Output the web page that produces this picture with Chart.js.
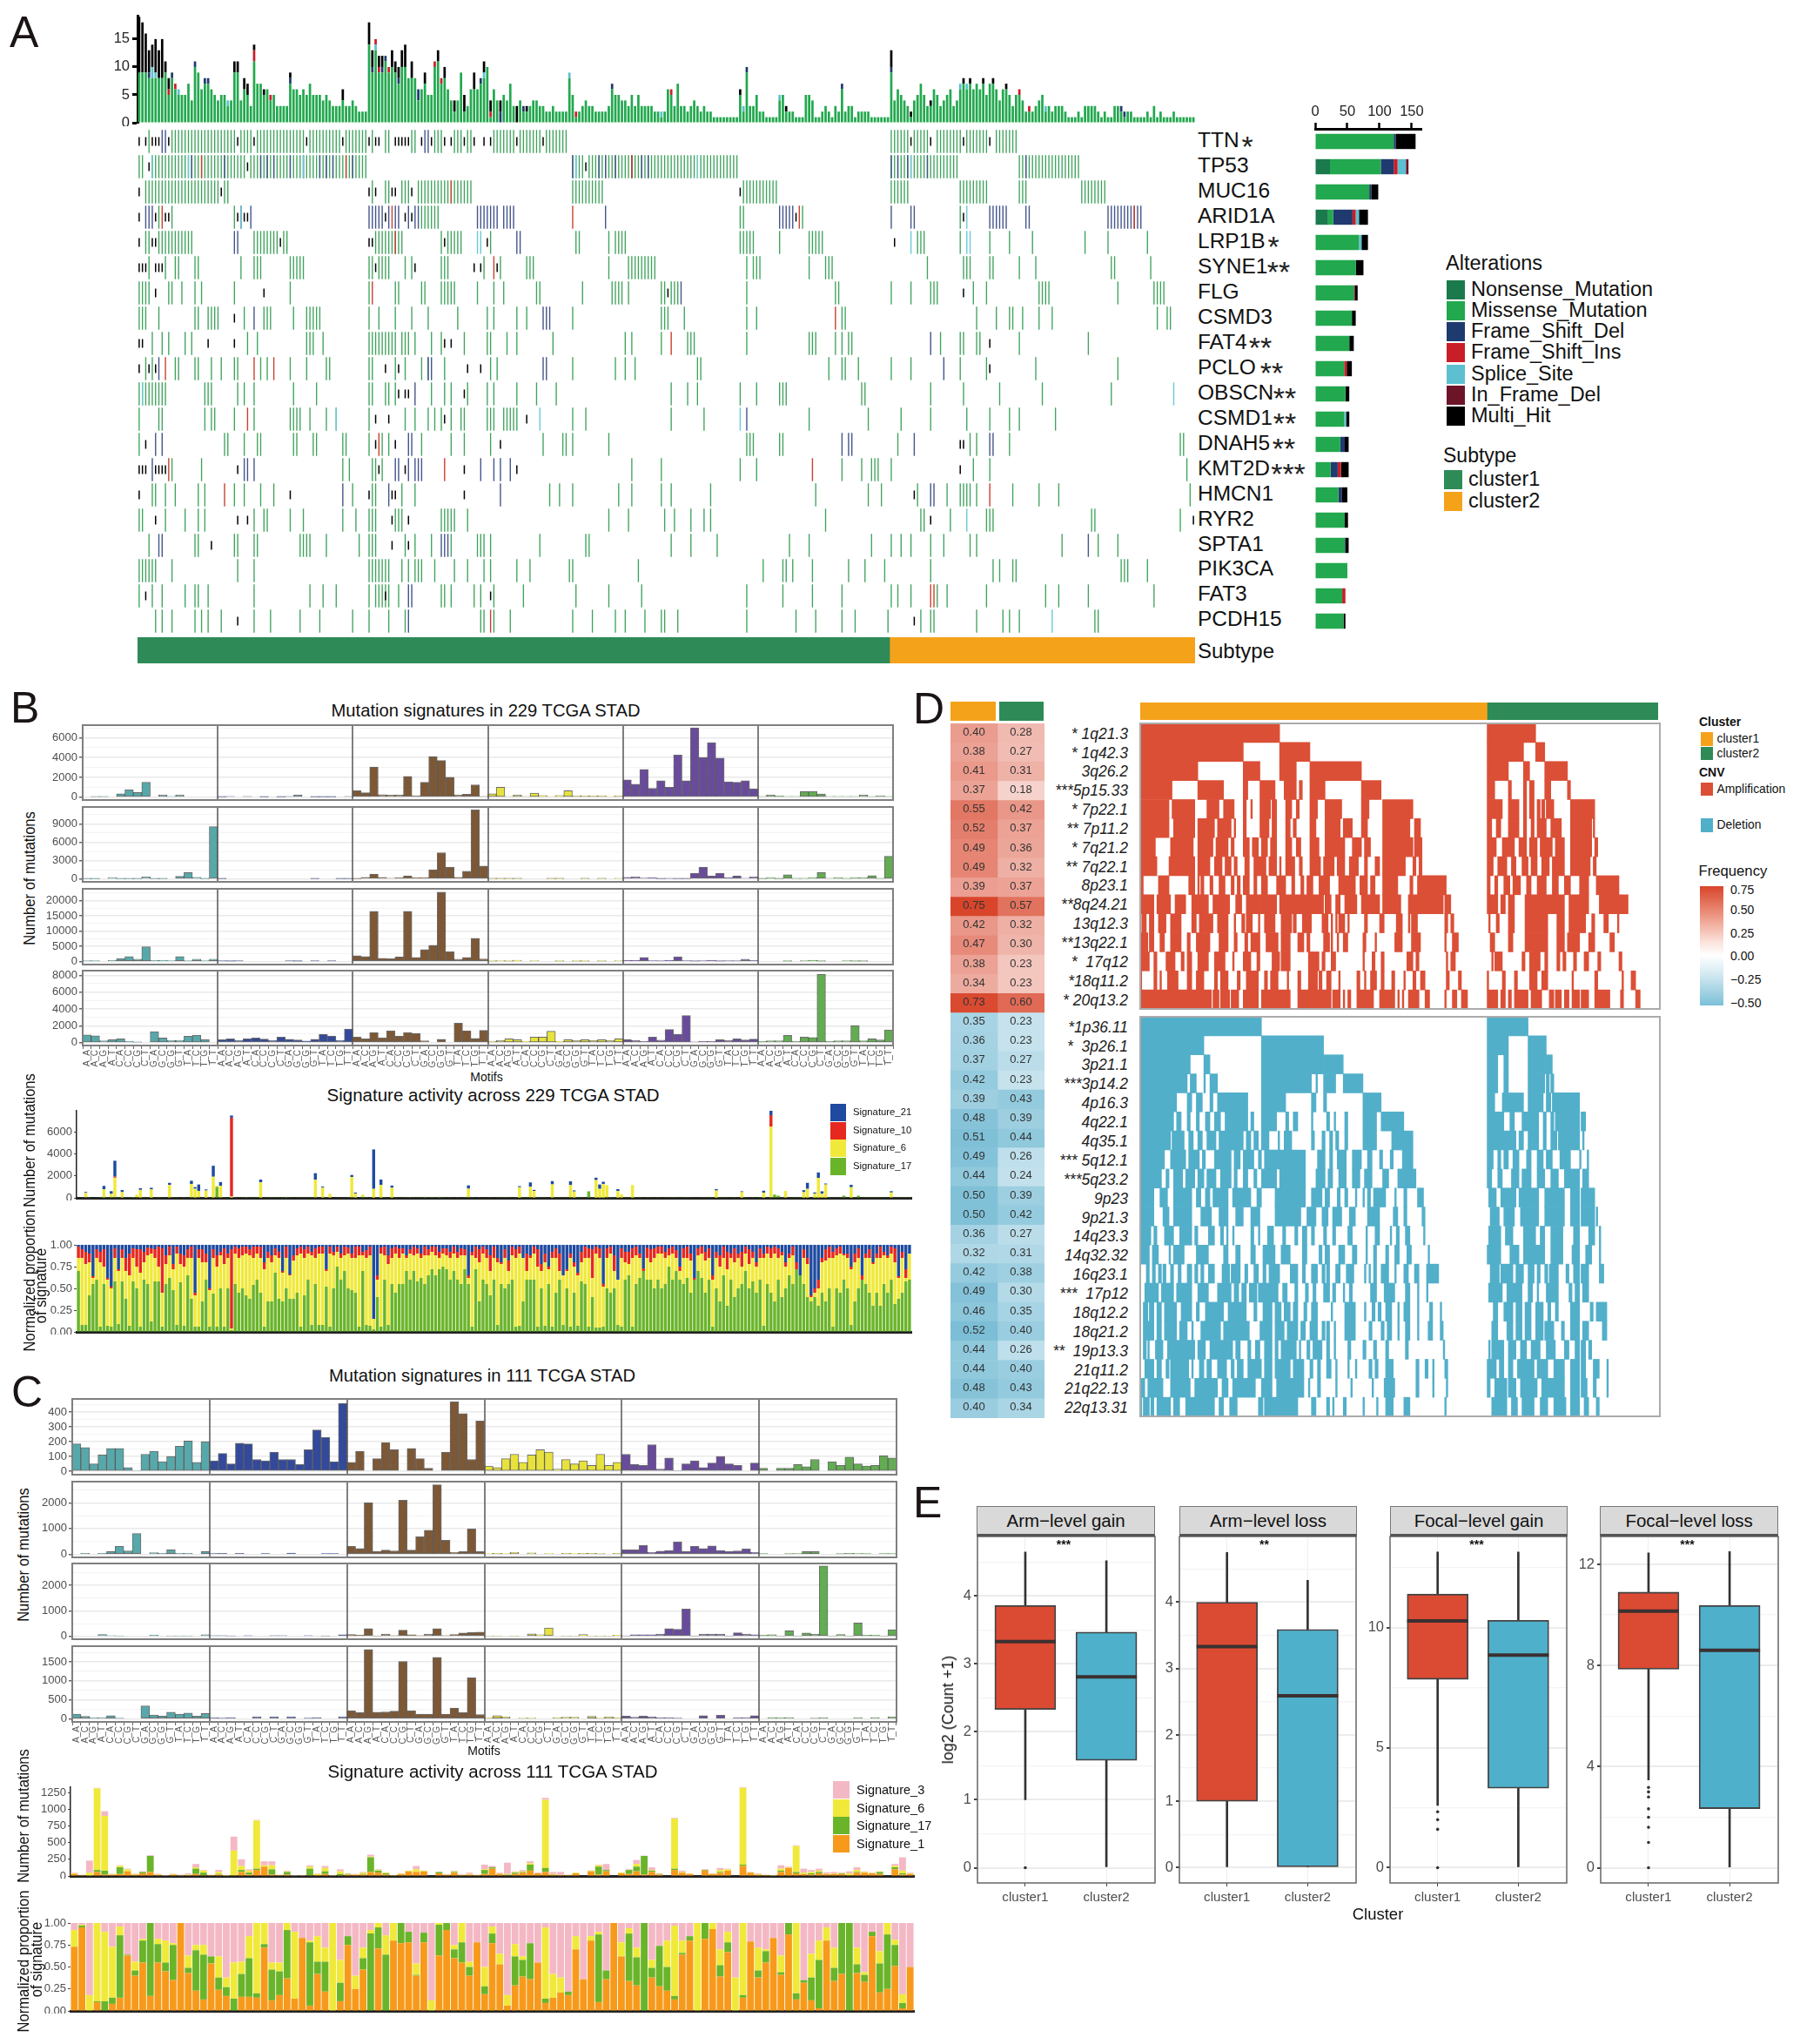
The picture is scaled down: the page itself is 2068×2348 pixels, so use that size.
<!DOCTYPE html>
<html><head><meta charset="utf-8">
<script src="https://cdn.jsdelivr.net/npm/chart.js@4"></script>
<style>
html,body{margin:0;padding:0;background:#fff}
#page{position:relative;width:2068px;height:2348px;overflow:hidden;font-family:"Liberation Sans",Arial,sans-serif;background:#fff}
canvas{position:absolute;display:block}
.t{position:absolute;white-space:pre;line-height:1}
.s{position:absolute}
</style></head><body><div id="page"></div>
<script>
/* ---------- Panel A data ---------- */
const geneNames=["TTN","TP53","MUC16","ARID1A","LRP1B","SYNE1","FLG","CSMD3","FAT4","PCLO","OBSCN","CSMD1","DNAH5","KMT2D","HMCN1","RYR2","SPTA1","PIK3CA","FAT3","PCDH15"];
const geneStars=["*","","","","*","**","","","**","**","**","**","**","***","","","","","",""];
const tmbTotals=[19,18,16,13,14,15,13,15,11,8,9,7,6,5,5,7,4,11,9,6,8,8,6,5,4,5,5,4,4,11,11,4,8,7,3,14,7,7,6,6,5,5,3,3,3,3,9,6,6,5,6,5,7,5,5,5,4,5,4,3,3,3,6,3,3,4,3,2,2,2,18,13,15,12,12,12,10,13,11,10,13,14,8,11,8,6,6,9,5,5,11,13,8,10,6,4,4,4,9,5,3,6,9,6,8,11,10,4,6,4,4,5,4,7,3,3,4,3,3,3,4,4,3,3,2,2,3,2,2,2,2,9,5,2,2,3,4,3,3,2,2,2,2,3,7,5,5,4,4,3,5,3,5,3,3,3,3,2,2,2,2,6,6,3,7,3,3,2,3,4,3,2,3,2,2,1,1,1,1,1,1,1,1,6,3,10,3,3,5,2,2,1,1,1,1,5,5,3,2,2,1,1,1,5,5,4,1,1,2,3,2,1,3,2,7,2,3,3,1,2,2,2,2,1,1,1,1,1,1,13,4,6,5,4,3,2,4,5,7,5,3,4,6,5,3,4,5,6,3,4,7,8,7,8,6,7,6,8,5,7,8,6,4,6,7,5,3,5,6,4,2,3,2,3,4,5,3,3,2,3,3,3,2,1,1,1,2,1,3,3,3,3,2,1,2,1,1,3,3,3,2,2,2,1,1,1,1,2,1,3,1,2,1,1,1,2,1,1,1,1,1,1];
const tmbMultiPairs=[[0,10],[1,9],[2,7],[3,4],[4,4],[5,6],[6,5],[7,7],[8,2],[9,2],[29,2],[30,2],[32,2],[33,2],[35,1],[38,1],[46,1],[62,2],[70,4],[71,3],[73,2],[74,2],[77,3],[78,2],[79,2],[80,3],[81,4],[83,3],[87,2],[91,2],[93,2],[96,2],[99,3],[102,3],[105,2],[107,2],[110,2],[115,3],[118,1],[183,1],[197,1],[229,3],[235,1],[241,1],[251,1],[253,1],[257,1],[260,1],[264,1]];
const tmbDelPairs=[[3,1],[10,1],[17,1],[20,1],[21,1],[46,1],[71,1],[74,1],[75,1],[79,1],[85,2],[104,1],[110,2],[117,1],[144,1],[185,1],[214,1],[229,1],[299,1],[300,1]];
const tmbSplicePairs=[[4,2],[5,1],[12,1],[27,1],[72,1],[105,1],[131,1],[159,1],[184,1],[195,1],[250,1],[252,1],[276,1]];
const tmbInsPairs=[[9,1],[11,1],[35,2],[40,1],[72,1],[73,1],[76,1],[90,1],[92,1],[107,1],[133,1],[162,1],[268,1],[271,1]];
const missenseRuns=[
"3 10-29 31-34 36-50 52-61 63-69 71 75-76 83-84 90-92 96-98 100-101 108-114 116-122 124-130 229-234 236-240 243-250 252-258 261-267",
"0-1 4-32 34-69 132-135 137-182 229-249 268-286",
"2-24 26-27 71 75-76 80-82 85-101 132-141 184-194 229-234 250-258 268-270 287-294",
"6 10 29 86-91 183-184 202 250",
"2-3 6-16 35-42 44-45 72-80 92 94-98 107 133-134 143 145-148 183-187 195 204-208 237-239 250 259 265 272 288 295 307",
"3 8 11-12 17-18 31 35-37 46-50 70-71 73-76 81 83 92-94 105 110 118-120 143 149-157 185 187-189 204 209-211 240 251-253 259-260 268 273 296-297 308",
"0-3 9-10 13 17 19 29 46 70 78-79 86-87 92-96 103 108 111 121-122 135 144-147 149 159-160 162-164 185 212-213 229 235 241-243 254 258 274-277 298 309-312",
"0-2 6 17-18 21-24 32 38-40 47 51-55 70 73 78 83 88 97 106 108 115 118 132 159-161 166 185 188 214-215 255 261 265-266 269 274 278 310 313-314",
"4 7 9 14 16 33 36 51-53 56 70-78 80-82 84 89 92 99 106-107 112 115 126 148 150 159 167-169 185 204-206 212 214 216-217 244 250-251 255-256 268 289",
"2 4 11-12 17-18 22 25 29-30 37 39 46 51 57-58 70-71 78 81 86 88 93 107 109 132 145 148 151 170-171 210 214-215 219 229 235 250 258 273 298",
"0-8 20-22 30 32 35 47 54 70-71 75-76 78 89 93 95 100 106 108 115 121 127 162 167 170 183 188 195-197 220-221 241 251 262 275 296",
"0 6-7 20 22-23 29 35 46-49 52 57 60 70 81 84 88 90 92 95 98-99 106-108 111-115 132 136 162 172 204 222 232 241 252 259 265 268 279",
"0 26-27 32 36-37 47-48 53-54 62-63 70 74 76 86 95 99 107 123 129-130 132 143 185-187 195-196 231 253 255 265 317-318",
"10 19 62 64 71-72 74 150 159 183 188 214 220 223-225 229 254 259 319",
"4-5 8 11 18 20 29 32 37 41 65 71-72 80 84 125 128 132 146 150 159 162 174 206 222 226 237 246 250-253 255 266 274 280 320",
"0-1 8 14 18 20 35 38-39 46 50 62 66 70-72 78-80 92-96 100 143 149 160 163 168 172 174 209 238-239 247 258-260 290-291 317",
"3 17-18 29-30 35-36 49-52 57 67 70-72 81 84 89 95 103-105 107 122 136-137 162 168 176 198 204 223 229 232 235 241 245 253 255 281 292 298",
"0-5 10 30 35 70-76 80 82 84-86 90 96 100 105 107 115 119 131-132 152 190 196-197 199 205 216 221 227 241 260 262 266-267 299-301 307",
"0 4 7 14 17-18 21 35 52 56 60 70 72-76 79 92-93 95 102 104 108 117 133 143 153 185 196 205 214 229 231 235 243 246 258 276 280 289 309",
"5 7 10 17 19 21 25 35 40 49 55 65 70 76 81 104-105 108 113 132 138 145 148 154 159-160 164 185 200 206 214 218 228 238 241-242 255 263 265 268 291-292"];
const multiRuns=[
"0 2 4-6 9 30 35 51 62 70 72-73 78-82 86 89 93 95 99 102 105 107 115 123 235 241 251 259",
"3 33 136",
"0 25 70 72 77-78 83 183",
"0 5 8-9 30 32-33 75 81 83 200 251",
"0 4-5 43 70-71 93 106 230",
"0-2 5-7 72 84 102 104 109",
"5 38 161 251","29","0-1 21 29 93 95 259","0 3 5 75 79 100 104 259","79 81-82 99","72 76 93 118","2 72 78 110 250-251",
"0-2 5-8 30 73 81 99 115 250","0 46 70 77-78 99 236","5 30 33 77 82 241 321","22 77 82","","2 75 107","30 236"];
const frameDelRuns=[
"7-8 87-88",
"16 26 37 39 41 46 50 55 57 59 65 132 140 142 145 150 153 155 229 231 234 240 270",
"",
"2-4 31 34 70-74 76 78-79 82 84-85 103-109 111-114 142 195-199 229 235-236 259-264 270-271 295-305",
"29-30 115-116","","165","35 123-125","241","6 88-89 123-124 245","84","185","5 7 82-83 214 216-217 236 259-260","4 32-33 35 78-79 82 84-86 104 108 110 113","62 76 110 241-242","","6-7 92-94 289","","82-83","82"];
const frameInsRuns=["","19 63 150","95","7 77 132 201 303","78","108","71","212","162","8 35 41","","33","73","9 93 205","26 259","","","","241-242","107"];
const spliceRuns=["","4 15 50 133 170 235","","31 252","103-104 235 252-253","","","","","","1 315","60 122 183","","","","252","","","","278"];
const subtypeCounts=[229,93];
const mutGeneMissense=[122,79,84,8,68,63,60,57,53,45,47,45,39,24,36,46,46,50,42,44];
const mutGeneNonsense=[0,23,0,20,0,0,0,0,0,0,0,0,0,0,0,0,0,0,0,0];
const mutGeneFrameDel=[3,20,3,30,0,0,0,0,0,0,0,0,7,11,5,0,1,0,0,0];
const mutGeneFrameIns=[0,6,0,5,0,0,0,0,0,4,0,0,0,5,0,0,0,0,5,0];
const mutGeneSplice=[0,13,0,5,4,0,0,0,0,0,0,3,0,0,0,0,0,0,0,0];
const mutGeneInFrame=[0,4,0,0,0,0,2,0,0,0,0,0,0,0,0,0,0,0,0,0];
const mutGeneMultiHit=[31,0,11,14,10,12,4,6,7,8,6,5,6,12,9,5,5,0,0,3];

/* ---------- Panels B, C data ---------- */
const motifNames=["A_A","A_C","A_G","A_T","C_A","C_C","C_G","C_T","G_A","G_C","G_G","G_T","T_A","T_C","T_G","T_T"];
const bSig1=[0,50,50,0,350,750,480,1500,0,230,70,230,0,0,0,0, 30,60,0,60,0,30,0,30,60,230,0,30,30,30,0,60, 680,450,3050,250,200,220,2100,150,1500,4100,3700,2000,220,300,1250,80, 330,1000,60,230,60,400,170,80,170,650,150,150,150,150,80,150, 1750,1300,2800,900,1650,1000,4250,1650,7000,4000,5500,3950,1550,1500,1650,850, 60,230,130,60,60,550,580,320,70,70,70,60,220,70,150,70];
const bSig2=[50,50,0,200,50,50,50,350,50,50,0,450,1050,250,50,8550, 50,0,0,0,0,0,0,0,0,0,0,30,0,0,30,30, 50,250,800,250,100,200,500,200,200,1500,4300,1950,250,1250,11300,2100, 30,30,30,30,0,0,0,30,30,0,0,30,0,30,0,60, 250,350,150,200,30,60,30,30,950,1950,500,950,200,500,100,350, 30,200,30,700,60,60,200,1050,100,200,70,200,200,550,60,3700];
const bSig3=[100,100,0,300,900,1600,700,4800,300,400,200,1600,100,750,100,750, 100,50,100,0,0,0,0,0,100,50,0,100,0,100,0,0, 1900,1600,16500,1000,900,1500,16500,1300,3900,5300,22800,3200,700,1300,7600,800, 50,100,50,350,0,100,0,0,60,0,50,60,0,50,0,100, 400,400,1300,200,100,400,1500,200,50,100,400,50,100,100,700,300, 0,0,0,50,0,100,400,50,0,0,100,50,50,0,0,0];
const bSig4=[900,800,220,350,450,130,50,0,1300,550,270,270,750,850,350,0, 350,450,250,450,550,420,250,650,380,320,180,400,1000,780,270,1600, 650,450,1200,550,1400,780,1200,1100,220,0,380,0,2300,1400,500,1450, 150,250,450,350,130,650,650,1350,130,350,250,350,250,350,250,450, 370,250,150,650,300,1550,1000,3200,70,150,150,350,250,450,320,420, 130,220,220,850,150,650,600,8100,150,220,220,2000,220,450,320,1500];
const cSig1=[185,160,50,110,155,155,25,5,115,135,65,100,170,205,60,200, 70,120,50,190,185,80,70,130,80,80,45,145,280,230,65,460, 60,135,0,85,195,145,0,155,85,20,0,130,470,390,80,340, 35,25,85,115,60,110,145,130,15,80,50,70,40,115,40,60, 115,45,40,180,15,90,5,50,70,25,55,100,50,40,0,55, 20,0,20,20,45,30,80,0,65,40,95,50,35,40,105,90];
const cSig2=[0,30,0,30,100,300,130,800,0,60,30,170,30,30,0,100, 20,30,0,30,0,0,20,0,0,40,0,0,0,20,20,0, 300,220,2000,110,160,130,2100,160,680,930,2700,540,70,100,980,100, 20,30,20,70,0,50,0,20,0,30,20,30,30,10,0,30, 170,170,340,70,120,140,470,110,300,220,320,140,110,130,200,70, 20,0,0,10,20,100,100,0,0,10,30,20,20,0,20,20];
const cSig3=[0,0,0,70,30,20,0,0,0,50,0,20,20,20,0,60, 30,30,20,0,30,0,0,30,30,0,0,30,0,20,0,60, 70,50,300,20,90,30,240,60,30,90,300,30,70,130,150,170, 20,20,0,20,0,100,60,330,0,20,20,70,20,20,20,50, 20,60,60,60,90,300,280,1070,20,90,90,90,20,140,90,60, 50,60,20,220,20,130,90,2750,20,70,20,520,50,50,20,260];
const cSig4=[120,60,20,30,80,10,0,0,340,100,70,170,120,150,70,140, 20,10,30,0,0,50,0,50,0,50,0,10,30,0,0,50, 210,160,1830,170,180,200,1510,210,120,120,1620,120,280,160,1080,110, 20,80,50,0,10,10,0,0,30,40,40,0,60,10,50,30, 70,40,70,50,30,30,10,0,0,80,0,90,0,30,30,80, 0,30,20,30,0,0,10,30,0,0,0,30,0,30,0,50];
const bActGreen=[40,30,60,20,40,30,20,40,20,60,90,20,30,20,20,80,70,30,60,20,20,30,20,20,30,40,20,20,30,20,50,60,30,70,30,20,60,30,1000,40,20,30,20,20,30,20,10,20,20,20,20,30,20,20,20,60,20,90,20,30,20,20,60,20,20,50,30,30,60,30,40,30,30,30,20,60,30,40,100,60,30,20,20,20,60,30,20,20,30,60,20,10,20,20,20,90,60,70,60,90,60,30,20,30,20,30,60,90,20,30,20,50,30,20,30,60,20,20,20,30,20,20,20,60,60,30,20,20,20,30,30,20,20,20,20,60,30,20,20,30,600,20,20,20,20,60,70,20,20,30,20,20,20,20,20,30,20,20,30,20,30,20,20,20,20,30,20,20,20,30,30,20,20,20,30,20,20,20,20,30,20,30,20,60,30,20,30,20,20,30,50,300,200,20,30,30,20,60,60,20,20,30,20,20,20,20,20,20,20,60,200,30,20,60,200,30,20,60,60,20,20,20,50,40,30,20,20,20,20];
const bActYellowPairs=[[2,400],[7,750],[9,300],[10,1750],[12,500],[16,220],[17,700],[20,750],[25,1150],[31,1200],[32,800],[33,550],[35,650],[37,1900],[38,100],[39,1050],[42,100],[50,1400],[65,1600],[67,900],[69,350],[75,1850],[76,350],[78,200],[81,800],[83,1150],[86,900],[107,750],[121,950],[124,950],[125,600],[130,1200],[135,1100],[136,550],[142,1600],[143,800],[144,1250],[145,1100],[148,600],[149,300],[152,1150],[175,650],[182,500],[188,450],[190,6450],[194,600],[199,500],[200,800],[202,350],[203,1800],[204,350],[205,1200],[212,950],[223,450]];
const bActRedPairs=[[10,100],[42,7200],[190,1050]];
const bActBluePairs=[[2,80],[7,300],[9,250],[10,1450],[12,180],[17,150],[20,150],[25,180],[31,300],[32,150],[33,600],[35,100],[37,1000],[39,350],[42,200],[50,250],[65,600],[67,100],[75,180],[76,100],[81,3600],[83,500],[86,200],[107,300],[121,100],[124,400],[125,100],[130,300],[135,350],[136,100],[142,220],[143,400],[144,200],[148,180],[175,130],[182,80],[188,180],[190,400],[199,180],[200,550],[202,120],[203,500],[204,230],[205,90],[212,220],[223,120]];
const bPropGreen=[70,8,8,42,55,60,6,55,7,6,58,9,58,38,7,58,50,6,60,55,12,58,58,6,55,62,48,8,57,7,65,38,6,6,35,60,6,44,6,50,6,50,2,55,45,50,42,38,54,60,45,6,35,35,68,38,35,50,38,38,45,6,42,60,8,55,8,8,52,6,50,75,60,70,50,48,45,6,70,8,7,3,40,6,60,8,55,45,55,55,70,60,70,58,62,55,65,72,65,72,75,72,60,70,60,55,72,55,6,72,35,60,55,42,60,8,55,50,55,60,6,7,35,60,60,60,6,50,7,55,6,45,60,8,50,6,45,7,58,55,6,40,5,5,6,50,45,50,8,6,60,65,6,55,62,70,60,60,50,60,50,55,75,60,70,60,55,62,45,60,70,62,45,60,6,50,35,65,30,60,40,50,55,70,50,58,45,60,7,55,45,35,60,40,50,65,55,72,65,55,40,35,40,30,45,35,50,6,50,45,60,50,8,35,50,60,55,45,30,45,30,55,45,60,32,38,45,58,60];
const bPropYellow=[85,85,78,80,62,85,80,75,60,50,85,70,85,70,65,85,75,68,80,88,90,85,75,45,78,88,72,90,78,75,85,85,42,85,80,80,48,85,75,88,78,85,4,90,85,88,90,88,85,90,85,72,85,80,88,85,68,85,65,82,88,90,85,90,88,85,90,90,70,90,88,92,85,88,90,85,85,88,88,85,88,15,60,90,88,78,85,90,85,90,85,90,88,90,85,88,88,92,88,85,90,88,85,90,85,88,88,62,88,85,80,90,85,70,85,80,78,85,70,88,85,90,85,70,85,90,75,70,80,72,85,85,70,65,70,85,75,65,80,85,85,62,90,85,52,85,90,70,60,85,80,78,85,88,85,65,85,80,85,90,90,85,88,90,85,70,85,85,82,60,88,90,82,85,60,85,75,85,72,85,80,85,75,90,78,85,75,85,85,90,85,90,85,88,75,85,88,60,40,85,78,40,45,50,80,82,85,85,88,90,88,85,72,80,85,60,85,85,78,85,85,88,85,90,80,62,85,62,90];
const bPropRed=[98,95,92,90,64,95,92,95,62,52,96,72,95,85,90,96,95,95,92,97,96,95,98,96,88,98,78,98,90,88,95,98,45,95,95,90,50,95,88,92,96,90,95,98,96,98,98,95,98,98,98,80,92,88,96,92,70,98,66,88,96,98,95,98,92,96,98,98,72,98,92,98,90,98,97,90,98,98,92,94,98,15,65,97,98,88,96,98,96,96,88,95,98,96,90,98,95,98,98,92,96,96,92,98,92,96,95,65,92,98,95,98,95,88,98,85,80,95,82,98,95,98,85,90,88,98,95,78,90,75,92,96,90,65,72,90,80,68,92,98,96,95,98,96,55,96,98,88,60,96,92,92,96,98,90,68,97,95,96,98,98,92,96,98,94,75,96,98,90,62,96,98,92,96,65,92,88,98,92,90,96,90,92,98,95,92,80,96,90,98,96,98,96,92,80,90,98,68,40,95,85,42,50,60,85,95,98,92,96,98,90,90,75,90,96,65,90,95,80,90,98,92,88,98,96,64,92,72,90];
const cActOrange=[30,10,0,60,20,20,30,70,20,40,60,20,0,20,0,10,30,10,10,20,5,10,60,20,90,140,20,10,20,0,0,10,10,30,0,10,20,20,20,60,50,20,5,30,70,60,70,0,40,20,50,10,20,10,30,110,30,10,30,50,80,40,60,20,10,10,40,0,70,20,70,0,40,30,70,20,60,20,0,90,50,30,0,80,30,50,80,0,150,50,20,10,5,60,120,40,30,20,40,30,30,30,10,50,50,40,30,0,100,20,30];
const cActGreen=[0,0,0,30,60,0,100,0,0,20,240,0,0,0,0,0,80,40,0,10,0,0,30,30,20,0,80,0,40,0,0,100,0,40,0,20,10,0,10,220,30,20,0,0,0,0,0,0,20,0,10,0,0,0,60,20,0,10,20,10,90,0,60,5,0,0,0,0,0,120,20,0,0,60,70,280,20,10,0,20,0,0,0,10,0,10,0,0,20,0,0,0,0,20,0,20,0,20,20,0,0,10,0,10,0,0,30,0,30,20,0];
const cActYellow=[10,5,50,1220,820,10,20,30,10,0,0,5,5,10,10,10,20,30,5,30,5,370,60,30,720,20,60,5,10,5,5,30,20,50,10,40,5,5,20,10,10,10,5,5,10,40,10,0,0,0,10,5,10,5,10,0,10,10,10,10,20,0,1020,5,5,5,10,0,10,20,0,0,10,0,40,0,10,5,0,750,10,5,0,0,5,30,20,0,1150,5,10,5,5,30,10,390,20,20,20,5,10,5,30,30,10,5,10,0,20,40,10];
const cActPink=[10,5,180,10,70,5,10,10,5,10,10,5,5,5,10,20,50,10,5,30,5,210,100,20,10,60,60,5,10,5,5,20,10,30,5,30,5,5,10,30,10,5,0,5,0,50,0,0,5,5,10,10,20,5,70,20,10,170,10,20,30,10,30,30,45,5,0,0,5,10,90,0,5,10,60,5,40,5,0,10,20,5,0,10,5,30,10,0,10,5,10,5,5,50,10,10,60,30,30,20,20,10,30,40,10,10,0,0,30,200,10];
const cPropOrange=[73,95,0,10,0,8,15,63,40,55,17,55,45,35,100,43,23,13,54,24,17,0,16,16,15,72,12,18,37,14,83,6,42,22,0,11,75,25,47,0,71,0,80,77,78,40,78,0,63,92,60,55,40,78,19,77,53,6,29,39,36,55,9,15,21,18,70,36,80,10,36,100,62,34,29,0,38,28,23,13,64,80,0,82,93,39,67,0,15,79,38,55,83,41,87,13,32,12,3,80,34,42,0,43,33,85,21,25,51,3,50];
const cPropGreen=[73,97,0,11,11,15,86,64,46,80,100,76,55,75,100,49,69,64,62,38,27,14,42,60,20,76,47,45,92,14,83,78,56,56,0,32,85,25,60,88,95,64,80,100,90,41,89,0,98,100,70,78,50,78,28,88,53,6,62,58,77,55,14,15,21,22,70,36,80,87,46,100,62,88,61,100,49,74,50,17,66,85,0,100,93,52,78,0,18,79,46,68,83,44,100,20,35,38,58,80,49,100,100,53,41,90,54,87,75,9,50];
const cPropYellow=[92,98,18,100,90,73,96,64,56,82,100,82,80,77,100,63,75,75,62,62,38,55,56,85,100,100,55,55,100,90,83,80,85,72,100,58,85,40,72,92,100,86,100,100,90,54,89,12,100,100,75,100,56,78,50,96,65,18,76,62,77,55,95,42,38,22,85,36,85,90,46,100,78,94,72,100,58,74,80,97,80,85,100,100,100,70,90,38,100,79,72,70,83,63,100,100,35,65,80,95,72,100,100,72,44,90,68,100,81,19,50];

/* ---------- Panel D data ---------- */
const ampLabels=["* 1q21.3","* 1q42.3","3q26.2","***5p15.33","* 7p22.1","** 7p11.2","* 7q21.2","** 7q22.1","8p23.1","**8q24.21","13q12.3","**13q22.1","*  17q12","*18q11.2","* 20q13.2"];
const delLabels=["*1p36.11","*  3p26.1","3p21.1","***3p14.2","4p16.3","4q22.1","4q35.1","*** 5q12.1","***5q23.2","9p23","9p21.3","14q23.3","14q32.32","16q23.1","***  17p12","18q12.2","18q21.2","**  19p13.3","21q11.2","21q22.13","22q13.31"];
const ampFreq1=[.40,.38,.41,.37,.55,.52,.49,.49,.39,.75,.42,.47,.38,.34,.73];
const ampFreq2=[.28,.27,.31,.18,.42,.37,.36,.32,.37,.57,.32,.30,.23,.23,.60];
const delFreq1=[.35,.36,.37,.42,.39,.48,.51,.49,.44,.50,.50,.36,.32,.42,.49,.46,.52,.44,.44,.48,.40];
const delFreq2=[.23,.23,.27,.23,.43,.39,.44,.26,.24,.39,.42,.27,.31,.38,.30,.35,.40,.26,.40,.43,.34];
const clusterSizes=[229,111];
const ampRuns=[
"0-92 229-261",
"0-68 92-112 229-253 261-267",
"0-38 68-79 92-103 112-146 229-243 253-257 267-282",
"0-21 38-55 68-71 79-89 95-103 105-107 112-122 146-159 229-234 243-245 253-255 257-260 267-271 282-284",
"0-19 21-36 44-52 55-62 68-70 73-74 79-86 87-90 96-100 103-105 112-117 122-133 146-151 160-180 229-234 234-239 243-250 253-255 257-260 262-264 265-267 268-273 284-300",
"0-19 22-36 38-49 51-60 62-63 68-70 79-85 87-90 96-99 101-103 112-116 122-132 134-140 146-150 160-178 181-185 229-232 235-238 243-250 253-255 258-260 262-268 271-278 284-298 299-300",
"0-10 20-35 38-48 50-58 60-62 68-72 74-78 80-84 86-90 96-100 103-106 112-118 122-135 140-146 148-152 160-180 181-186 229-235 239-247 250-255 257-262 264-272 274-280 284-298 300-302",
"0-11 19-36 38-46 49-54 56-60 62-64 69-72 75-83 85-90 92-93 96-102 105-107 112-119 121-128 130-135 138-144 148-150 155-158 160-175 180-182 184-186 229-233 236-242 245-248 252-256 258-262 265-270 272-280 284-297 299-301",
"0-2 12-19 32-36 38-39 40-42 46-48 52-56 60-62 64-66 68-72 75-77 80-84 90-96 100-102 106-108 110-114 118-125 131-142 145-150 152-155 160-170 178-180 183-202 229-231 234-236 240-244 246-251 255-258 262-268 272-276 280-284 290-296 301-316",
"0-9 11-20 23-30 34-45 48-59 63-67 70-79 79-90 92-121 122-126 129-132 135-143 146-158 160-172 177-200 201-205 229-236 238-241 243-247 254-280 283-290 290-296 303-322",
"1-4 6-9 12-17 20-27 34-37 39-48 51-58 62-63 67-69 70-74 78-79 82-89 93-100 101-103 107-113 120-124 126-127 129-130 131-135 137-138 148-150 158-161 169-173 177-178 179-183 201-203 205-207 230-231 235-237 243-247 254-269 275-280 283-290 290-294 298-300 306-309 315-316",
"0-5 6-9 13-16 20-27 31-33 37-46 52-58 62-64 69-71 73-79 83-91 93-99 104-108 110-112 121-125 126-127 130-131 134-137 147-149 155-156 168-173 179-185 201-202 206-210 231-234 243-246 254-269 275-280 282-290 296-300 310-313",
"0-6 9-11 17-23 27-29 31-34 38-45 49-56 61-62 68-73 77-79 87-92 93-99 111-118 120-122 126-129 147-148 153-155 159-161 176-180 182-184 202-203 205-208 232-233 234-239 252-254 257-264 267-269 275-277 279-281 286-288 293-296 302-304 316-318",
"0-1 9-11 13-14 18-25 31-34 37-42 49-51 53-58 64-66 70-78 82-84 86-91 97-98 104-106 111-117 118-120 123-126 131-132 143-145 148-149 152-156 159-161 166-168 174-175 180-182 185-188 202-204 210-212 229-230 239-241 247-249 257-262 265-269 285-286 300-302 318-319 324-327",
"0-47 48-52 53-59 60-65 68-78 80-99 104-126 127-132 134-135 137-139 143-154 158-168 170-171 173-174 177-184 188-191 201-202 206-209 212-216 229-236 238-241 243-245 247-256 258-265 270-273 274-278 280-283 285-290 291-296 300-310 317-319 327-330"];
const delRuns=[
"0-80 229-256",
"0-42 80-121 229-243 256-268",
"0-33 42-46 80-121 121-134 229-236 240-243 256-268 268-272",
"0-31 33-37 42-43 46-51 80-113 116-117 121-129 134-147 229-236 240-243 256-267 268-270 271-273",
"0-24 31-34 37-41 46-48 51-71 80-96 113-116 121-123 147-159 229-234 239-253 256-266 268-271 272-290",
"0-22 24-27 31-33 37-39 43-46 49-53 56-71 73-75 80-90 96-98 101-104 113-114 123-125 128-129 135-137 147-156 159-174 229-240 244-247 252-263 266-268 271-273 274-290 291-294",
"0-20 21-29 32-35 38-41 44-50 52-68 70-73 75-78 80-85 91-92 95-100 113-115 120-122 125-127 129-131 135-137 147-156 166-180 229-248 250-253 256-263 266-268 271-275 276-290 292-293",
"0-16 20-24 24-30 32-39 41-43 49-60 62-66 68-75 78-80 82-90 90-109 117-122 125-127 130-136 140-146 150-153 158-160 165-167 173-180 229-233 236-238 240-243 246-250 255-258 262-266 268-272 277-284 290-291 295-296",
"0-14 17-19 22-28 30-36 38-42 44-50 53-60 62-64 68-71 75-77 80-90 92-109 116-122 124-127 131-136 140-145 148-153 160-164 170-178 178-182 229-232 236-239 245-250 252-258 262-267 271-276 280-290 292-296",
"0-9 13-18 22-34 37-40 43-46 48-58 61-73 77-80 89-109 113-120 122-125 130-132 135-137 142-143 147-148 150-152 154-162 168-169 174-176 183-187 230-235 238-248 250-263 267-280 284-290 291-300",
"0-9 15-19 22-34 40-47 52-58 63-68 73-79 89-106 110-116 120-124 127-133 138-142 150-158 167-170 174-176 186-188 231-237 240-247 251-263 267-280 284-290 291-300 301-302",
"0-7 9-11 16-22 26-34 36-38 45-49 53-55 57-58 61-62 73-75 78-79 84-88 94-96 102-104 107-110 113-115 121-123 127-129 137-140 149-150 155-158 165-166 169-171 175-178 187-188 230-238 241-246 253-261 264-267 271-279 286-290 296-300 303-304",
"0-6 8-12 19-20 22-29 37-45 55-58 63-66 73-76 81-89 93-99 107-110 118-120 122-125 131-135 140-143 149-150 154-156 162-164 168-171 176-179 190-191 229-238 244-250 253-267 271-279 285-290 294-298 303-304",
"4-6 8-10 12-14 15-17 20-22 25-27 31-34 36-38 40-42 45-49 54-59 60-66 69-71 75-78 81-83 85-92 99-104 107-109 113-117 120-122 123-125 129-132 136-141 148-149 151-152 154-156 159-164 168-169 174-177 181-184 189-197 231-237 238-246 248-253 256-260 262-264 267-269 270-276 281-283 286-290 291-296 303-306",
"3-12 14-22 24-34 38-45 51-60 62-65 67-70 72-77 78-91 94-97 102-104 109-111 114-116 121-125 127-129 134-135 138-140 152-156 161-168 175-178 183-184 189-190 230-232 232-239 242-252 256-259 262-263 268-276 283-285 287-290 292-296",
"2-5 6-9 11-14 16-24 27-34 37-39 43-55 58-70 75-77 81-87 89-93 95-99 101-104 108-110 113-117 126-127 135-142 148-149 153-155 157-159 162-166 170-171 174-178 183-184 191-193 198-199 233-236 240-246 248-252 254-258 261-266 269-271 274-276 284-290 297-299 301-308",
"2-9 11-14 16-24 26-31 34-35 40-53 55-72 79-87 89-95 97-104 106-109 112-117 120-122 123-125 128-129 135-142 151-153 159-161 163-166 170-171 175-178 183-184 190-193 198-200 232-236 242-246 248-252 254-258 261-266 267-273 278-280 284-290 292-296 305-308",
"2-4 5-6 10-15 18-36 38-43 46-61 63-66 71-73 76-79 82-87 89-91 93-103 105-106 110-112 114-120 123-125 128-129 137-139 147-149 154-156 162-164 175-177 200-201 230-231 232-240 243-248 251-255 258-264 268-274 280-283 287-290 291-294 296-298",
"3-9 11-14 17-19 20-32 34-35 39-42 44-47 51-57 60-62 64-68 71-80 82-87 89-99 101-108 112-114 117-119 123-126 129-130 137-138 142-143 151-153 155-157 162-167 182-184 188-190 193-194 201-203 229-235 237-240 243-246 249-260 262-269 273-280 284-290 291-294 299-303 308-309",
"0-3 5-15 20-33 36-51 54-58 61-76 80-87 90-108 111-112 117-119 129-130 139-140 153-154 161-168 182-184 193-194 202-203 229-231 234-242 243-248 251-262 265-280 284-290 291-295 299-301 308-309",
"0-1 2-6 7-9 11-20 22-26 30-49 52-55 59-64 78-81 82-104 113-116 123-125 127-128 134-136 147-148 156-157 162-167 174-178 201-202 232-242 245-249 252-260 264-269 273-281 284-290 293-296 301-303"];

/* ---------- Panel E data: [low whisker, q1, median, q3, high whisker] ---------- */
const armGainBox=[[1,2.33,3.33,3.86,4.65],[0,1.58,2.81,3.47,4.52]];
const armLossBox=[[0,1,3.33,4,4.75],[0,0,2.59,3.59,4.33]];
const focalGainBox=[[2.6,7.85,10.28,11.4,13.15],[0,3.31,8.86,10.31,13.15]];
const focalLossBox=[[3.47,7.85,10.15,10.9,12.45],[0,2.34,8.6,10.37,12.5]];
const armGainOutliers=[0];
const armLossOutliers=[];
const focalGainOutliers=[2.33,2,1.6,0];
const focalLossOutliers=[3.18,3,2.8,2.33,2,1.6,1,0];

/* ---------- helpers ---------- */
const FONT='"Liberation Sans",Arial,sans-serif';
Chart.defaults.font.family=FONT;
Chart.defaults.animation=false;
Chart.defaults.responsive=false;
Chart.defaults.devicePixelRatio=1;
Chart.defaults.events=[];
Chart.defaults.plugins.legend.display=false;
Chart.defaults.plugins.tooltip.enabled=false;
const page=document.getElementById('page');
function txt(s,x,y,o={}){
  const e=document.createElement('div');e.className='t';e.textContent=s;
  const a=o.anchor||'c';const tx=a==='l'?'0':a==='r'?'-100%':'-50%';
  e.style.cssText+=`left:${x}px;top:${y}px;font-size:${o.size||14}px;color:${o.color||'#111'};font-weight:${o.weight||'normal'};font-style:${o.italic?'italic':'normal'};transform:translate(${tx},-50%) rotate(${o.rot||0}deg)${o.sx?` scaleX(${o.sx})`:''};`;
  page.appendChild(e);return e;
}
function rect(x0,y0,x1,y1,css){const e=document.createElement('div');e.className='s';e.style.cssText+=`left:${x0}px;top:${y0}px;width:${x1-x0}px;height:${y1-y0}px;${css}`;page.appendChild(e);return e;}
function place(x0,y0,x1,y1,m,cfg){
  const {l=0,t=0,r=0,b=0}=m;
  const c=document.createElement('canvas');
  const W=Math.round(x1-x0+l+r),H=Math.round(y1-y0+t+b);
  c.width=W;c.height=H;c.style.left=(x0-l)+'px';c.style.top=(y0-t)+'px';c.style.width=W+'px';c.style.height=H+'px';
  page.appendChild(c);
  cfg.options=cfg.options||{};const o=cfg.options;o.scales=o.scales||{};
  const hAxis=o.scales.x=o.scales.x||{},vAxis=o.scales.y=o.scales.y||{};
  const isTop=hAxis.position==='top';
  const xVis=hAxis.display!==false,yVis=vAxis.display!==false;
  const zero=s=>{s.paddingTop=s.paddingBottom=s.paddingLeft=s.paddingRight=0;};
  hAxis.afterFit=s=>{s.height=xVis?(isTop?t:b):0;zero(s);};
  vAxis.afterFit=s=>{s.width=yVis?l:0;zero(s);};
  o.layout={autoPadding:false,padding:{left:yVis?0:l,right:r,top:(xVis&&isTop)?0:t,bottom:(xVis&&!isTop)?0:b}};
  return new Chart(c,cfg);
}
/* explicit tick positions along a linear axis */
const tickAt=(min,max,step)=>{const out=[];for(let k=Math.ceil(min/step-1e-9);k*step<=max+1e-9;k++)out.push(k*step);return out;};
const setTicks=vals=>s=>{s.ticks=vals.map(v=>({value:v}));};
const parseRuns=s=>{const out=[];s.trim().split(/\s+/).filter(Boolean).forEach(p=>{const a=p.split('-').map(Number);for(let i=a[0];i<=(a[1]===undefined?a[0]:a[1]);i++)out.push(i);});return out;};
const parseSpans=s=>s.trim().split(/\s+/).filter(Boolean).map(p=>{const a=p.split('-').map(Number);return [a[0],a[1]===undefined?a[0]+1:a[1]];});
const pairsTo=(pairs,n)=>{const a=new Array(n).fill(0);pairs.forEach(p=>a[p[0]]=p[1]);return a;};
const frame=(color,w)=>({id:'frame',afterDatasetsDraw(ch){const a=ch.chartArea,g=ch.ctx;g.save();g.strokeStyle=color;g.lineWidth=w;g.strokeRect(a.left,a.top,a.right-a.left,a.bottom-a.top);g.restore();}});
const groupLines={id:'groupLines',afterDatasetsDraw(ch){const a=ch.chartArea,g=ch.ctx,x=ch.scales.x;g.save();g.strokeStyle='#555';g.lineWidth=1.5;[16,32,48,64,80].forEach(i=>{const p=Math.round(x.getPixelForValue(i-.5));g.beginPath();g.moveTo(p,a.top);g.lineTo(p,a.bottom);g.stroke();});g.restore();}};

/* ---------- panel letters ---------- */
[["A",11,37],["B",12,813],["C",13,1599],["D",1049,814],["E",1049,1726]].forEach(p=>txt(p[0],p[1],p[2],{anchor:'l',size:50,color:'#1a1414'}));

/* ---------- Panel A ---------- */
const ALT={non:'#1a7a4c',mis:'#22a84e',del:'#1f3a6e',ins:'#c81e28',spl:'#5cc0d0',inf:'#6e1428',mul:'#000000'};
const nSamplesA=322,sampleIdx=Array.from({length:nSamplesA},(_,i)=>i);
const tmbMulti=pairsTo(tmbMultiPairs,322),tmbDel=pairsTo(tmbDelPairs,322),tmbSpl=pairsTo(tmbSplicePairs,322),tmbIns=pairsTo(tmbInsPairs,322);
const tmbMis=tmbTotals.map((v,i)=>Math.max(0,v-tmbMulti[i]-tmbDel[i]-tmbSpl[i]-tmbIns[i]));
const stackDs=(d,c,bp)=>({data:d,backgroundColor:c,barPercentage:bp,categoryPercentage:1});
place(158,18.4,1372.5,141.3,{l:42,t:4,r:2,b:4},{type:'bar',data:{labels:sampleIdx,datasets:[stackDs(tmbMis,ALT.mis,.72),stackDs(tmbSpl,ALT.spl,.72),stackDs(tmbIns,ALT.ins,.72),stackDs(tmbDel,ALT.del,.72),stackDs(tmbMulti,ALT.mul,.72)]},
 options:{scales:{x:{stacked:true,display:false},y:{stacked:true,bounds:'data',min:0,max:19.2,afterBuildTicks:setTicks([0,5,10,15]),ticks:{autoSkip:false,font:{size:16.5},color:'#222',padding:3},grid:{drawOnChartArea:false,tickLength:6,tickWidth:3,tickColor:'#000'},border:{color:'#000',width:3}}}}});
const oncoPts=list=>list.flatMap((s,g)=>parseRuns(s).map(i=>({x:i+.5,y:g+.5})));
const oncoDs=(list,c,rad,w)=>({data:oncoPts(list),pointStyle:'line',rotation:90,pointRadius:rad,pointBorderColor:c,pointBorderWidth:w,pointBackgroundColor:c,clip:false,showLine:false});
place(158,148,1372.5,728,{},{type:'scatter',data:{datasets:[oncoDs(multiRuns,ALT.mul,5,1.5),oncoDs(spliceRuns,'#6cc8d6',13.2,1.4),oncoDs(frameInsRuns,'#c9402f',13.2,1.4),oncoDs(frameDelRuns,'#44558c',13.2,1.4),oncoDs(missenseRuns,'#3fa35c',13.2,1.35)]},
 options:{scales:{x:{display:false,min:0,max:322,bounds:'data'},y:{display:false,min:0,max:20,reverse:true,bounds:'data'}}}});
const starX=[1433,0,0,0,1463,1469,0,0,1448,1461,1476,1476,1475,1480,0,0,0,0,0,0];
geneNames.forEach((g,i)=>{const gy=161+28.97*i;txt(g,1376,gy,{anchor:'l',size:24.5});if(geneStars[i])txt(geneStars[i],starX[i],gy+6.5,{anchor:'c',size:34,color:'#222'});});
place(1510.8,148,1633,728,{l:12,t:34,r:4},{type:'bar',data:{labels:geneNames,datasets:[stackDs(mutGeneNonsense,ALT.non,.6),stackDs(mutGeneMissense,ALT.mis,.6),stackDs(mutGeneFrameDel,ALT.del,.6),stackDs(mutGeneFrameIns,ALT.ins,.6),stackDs(mutGeneSplice,ALT.spl,.6),stackDs(mutGeneInFrame,ALT.inf,.6),stackDs(mutGeneMultiHit,ALT.mul,.6)]},
 options:{indexAxis:'y',scales:{x:{position:'top',stacked:true,bounds:'data',min:0,max:165,afterBuildTicks:setTicks([0,50,100,150]),ticks:{autoSkip:false,font:{size:16.5},color:'#222',padding:3,maxRotation:0},grid:{drawOnChartArea:false,tickLength:7,tickWidth:2.5,tickColor:'#000'},border:{color:'#000',width:3}},y:{stacked:true,display:false}}}});
place(158,732,1372.5,762,{},{type:'bar',data:{labels:['Subtype'],datasets:[{data:[[0,subtypeCounts[0]]],backgroundColor:'#2e8b57',grouped:false,barPercentage:1,categoryPercentage:1},{data:[[subtypeCounts[0],subtypeCounts[0]+subtypeCounts[1]]],backgroundColor:'#f5a21b',grouped:false,barPercentage:1,categoryPercentage:1}]},
 options:{indexAxis:'y',scales:{x:{display:false,min:0,max:322,bounds:'data'},y:{display:false}}}});
txt('Subtype',1376,748,{anchor:'l',size:24});
txt('Alterations',1661,303,{anchor:'l',size:23.5});
[["Nonsense_Mutation",ALT.non,332.7],["Missense_Mutation",ALT.mis,356.8],["Frame_Shift_Del",ALT.del,380.8],["Frame_Shift_Ins",ALT.ins,404.8],["Splice_Site",ALT.spl,429.7],["In_Frame_Del",ALT.inf,454],["Multi_Hit",ALT.mul,478]].forEach(a=>{rect(1661.5,a[2]-11,1682.5,a[2]+11,`background:${a[1]}`);txt(a[0],1690,a[2],{anchor:'l',size:23.5});});
txt('Subtype',1658,523,{anchor:'l',size:23});
[["cluster1",'#2e8b57',551],["cluster2",'#f5a21b',575.6]].forEach(a=>{rect(1659,a[2]-11,1679.5,a[2]+11,`background:${a[1]}`);txt(a[0],1687,a[2],{anchor:'l',size:23.5});});

/* ---------- motif panels ---------- */
const MOTIF=['#57a8aa','#33499a','#7c5836','#e8e23c','#694b9c','#62ac52'];
const motifLabels=Array.from({length:96},(_,i)=>motifNames[i%16]);
const motifColors=Array.from({length:96},(_,i)=>MOTIF[Math.floor(i/16)]);
function motifRow(vals,x0,x1,y0,y1,min,max,step,major,last){
  const isMaj=c=>c.tick&&c.tick.value%major===0;
  const xCfg=last?{ticks:{autoSkip:false,minRotation:90,maxRotation:90,font:{size:10},color:'#555',padding:1},grid:{drawOnChartArea:false,tickLength:4,tickColor:'#666'},border:{display:false}}
    :{display:false};
  place(x0,y0,x1,y1,{l:46,t:2,r:2,b:last?26:2},{type:'bar',data:{labels:motifLabels,datasets:[{data:vals,backgroundColor:motifColors,borderColor:'rgba(45,45,45,.7)',borderWidth:1,borderSkipped:false,barPercentage:1,categoryPercentage:1}]},
   options:{scales:{x:xCfg,y:{bounds:'data',min,max,afterBuildTicks:setTicks(tickAt(min,max,step)),ticks:{autoSkip:false,font:{size:13},color:'#4d4d4d',padding:2,callback:v=>(v%major===0?String(v):'')},grid:{color:c=>isMaj(c)?'#e9e9e9':'#f3f3f3',lineWidth:c=>isMaj(c)?1.5:1,tickLength:4,tickColor:c=>isMaj(c)?'#666':'rgba(0,0,0,0)'},border:{display:false}}}},
   plugins:[groupLines,frame('#7f7f7f',2)]});
}
txt('Mutation signatures in 229 TCGA STAD',558,816,{size:20.2});
motifRow(bSig1,94.7,1025.7,833.3,919.3,-290,7270,1000,2000);
motifRow(bSig2,94.7,1025.7,927.3,1013.3,-470,11760,1500,3000);
motifRow(bSig3,94.7,1025.7,1020.7,1107.3,-1040,23920,2500,5000);
motifRow(bSig4,94.7,1025.7,1114.7,1200.7,-350,8550,1000,2000,true);
txt('Number of mutations',34,1009,{size:18,rot:-90,sx:.92});
txt('Motifs',559,1237,{size:14});
txt('Mutation signatures in 111 TCGA STAD',554,1580,{size:20.2});
motifRow(cSig1,83,1030,1606.7,1694,-23.5,490,50,100);
motifRow(cSig2,83,1030,1701.7,1789,-125,2822,500,1000);
motifRow(cSig3,83,1030,1796,1883.3,-112,2850,500,1000);
motifRow(cSig4,83,1030,1890.7,1978,-85,1917,250,500,true);
txt('Number of mutations',27,1786,{size:18,rot:-90,sx:.92});
txt('Motifs',556,2011,{size:14});

/* ---------- signature activity ---------- */
function activityTop(series,colors,x0,x1,y0,y1,max,step,bp){
  const n=series[0].length,labels=Array.from({length:n},(_,i)=>i);
  place(x0,y0,x1,y1,{l:46,t:3,r:2,b:3},{type:'bar',data:{labels,datasets:series.map((d,i)=>stackDs(d,colors[i],bp))},
   options:{scales:{x:{stacked:true,ticks:{display:false},grid:{display:false,drawTicks:false},border:{color:'#222',width:3}},y:{stacked:true,bounds:'data',min:0,max,afterBuildTicks:setTicks(tickAt(0,max,step)),ticks:{autoSkip:false,font:{size:13},color:'#4d4d4d',padding:2,callback:v=>String(v)},grid:{drawOnChartArea:false,tickLength:3,tickColor:'#444'},border:{color:'#222',width:1.5}}}}});
}
function activityProp(series,colors,x0,x1,y0,y1,bp){
  const n=series[0].length,labels=Array.from({length:n},(_,i)=>i);
  place(x0,y0,x1,y1,{l:46,t:6,r:2,b:3},{type:'bar',data:{labels,datasets:series.map((d,i)=>stackDs(d,colors[i],bp))},
   options:{scales:{x:{stacked:true,ticks:{display:false},grid:{display:false,drawTicks:false},border:{color:'#222',width:3}},y:{stacked:true,bounds:'data',min:0,max:1,afterBuildTicks:setTicks([0,.25,.5,.75,1]),ticks:{autoSkip:false,font:{size:13},color:'#4d4d4d',padding:2,callback:v=>v.toFixed(2)},grid:{drawOnChartArea:false,tickLength:3,tickColor:'#444'},border:{display:false}}}}});
}
const diff=(a,b)=>a.map((v,i)=>Math.max(0,(v-(b?b[i]:0))/100));
const bColors=['#6ab42a','#f0e93a','#e6281e','#1e4ba0'];
txt('Signature activity across 229 TCGA STAD',566.6,1258,{size:20.5});
activityTop([bActGreen,pairsTo(bActYellowPairs,229),pairsTo(bActRedPairs,229),pairsTo(bActBluePairs,229)],bColors,88,1046.7,1275.7,1375.7,7950,2000,.82);
activityProp([diff(bPropGreen),diff(bPropYellow,bPropGreen),diff(bPropRed,bPropYellow),bPropRed.map(v=>(100-v)/100)],bColors,88,1046.7,1430,1530,.82);
[["Signature_21",bColors[3],1278],["Signature_10",bColors[2],1299],["Signature_6",bColors[1],1319],["Signature_17",bColors[0],1339.5]].forEach(a=>{rect(954,a[2]-10,972,a[2]+10,`background:${a[1]}`);txt(a[0],980,a[2],{anchor:'l',size:11.3});});
txt('Number of mutations',34,1310,{size:18,rot:-90,sx:.92});
txt('Normalized proportion',34,1471,{size:18,rot:-90,sx:.92});
txt('of signature',47,1477,{size:18,rot:-90,sx:.92});
const cColors=['#f79a1b','#6ab42a','#f0e93a','#f4b8c4'];
txt('Signature activity across 111 TCGA STAD',566,2035,{size:20.5});
activityTop([cActOrange,cActGreen,cActYellow,cActPink],cColors,81,1050,2053,2154.7,1330,250,.9);
activityProp([diff(cPropOrange),diff(cPropGreen,cPropOrange),diff(cPropYellow,cPropGreen),cPropYellow.map(v=>(100-v)/100)],cColors,81,1050,2209.3,2310.7,.9);
[["Signature_3",cColors[3],2056],["Signature_6",cColors[2],2077],["Signature_17",cColors[1],2097],["Signature_1",cColors[0],2118]].forEach(a=>{rect(957,a[2]-10,976,a[2]+10,`background:${a[1]}`);txt(a[0],984,a[2],{anchor:'l',size:14.5});});
txt('Number of mutations',27,2086,{size:18,rot:-90,sx:.92});
txt('Normalized proportion',27,2253,{size:18,rot:-90,sx:.92});
txt('of signature',42,2251,{size:18,rot:-90,sx:.92});

/* ---------- Panel D ---------- */
const mix=(c,t)=>{t=Math.min(1,t);return `rgb(${c.map(v=>Math.round(255+(v-255)*t)).join(',')})`;};
const ampColor=v=>mix([216,69,43],v/.75),delColor=v=>mix([79,168,200],v/.7);
const freqLabels=ampLabels.concat(delLabels);
const freq1=ampFreq1.concat(delFreq1),freq2=ampFreq2.concat(delFreq2);
const cellColor=(v,i)=>i<ampLabels.length?ampColor(v):delColor(v);
const freqValues={id:'freqValues',afterDatasetsDraw(ch){const g=ch.ctx,x=ch.scales.x,y=ch.scales.y;g.save();g.font='13px '+FONT;g.fillStyle='#333';g.textAlign='center';g.textBaseline='middle';
  [freq1,freq2].forEach((arr,k)=>arr.forEach((v,i)=>g.fillText(v.toFixed(2),x.getPixelForValue(k+.5),y.getPixelForValue(i)-1)));g.restore();}};
place(1092,830.7,1200,1629,{},{type:'bar',data:{labels:freqLabels,datasets:[
 {data:freq1.map(()=>[0,1]),backgroundColor:freq1.map(cellColor),grouped:false,barPercentage:1,categoryPercentage:1},
 {data:freq2.map(()=>[1,2]),backgroundColor:freq2.map(cellColor),grouped:false,barPercentage:1,categoryPercentage:1}]},
 options:{indexAxis:'y',scales:{x:{display:false,min:0,max:2,bounds:'data'},y:{display:false}}},plugins:[freqValues]});
rect(1092,806,1144,828,'background:#f5a21b');rect(1148,806,1199,828,'background:#2e8b57');
const D_X0=1310,D_X1=1907,D_MAX=343;
place(D_X0,806.7,1905,827,{},{type:'bar',data:{labels:['Cluster'],datasets:[{data:[[0,clusterSizes[0]]],backgroundColor:'#f5a21b',grouped:false,barPercentage:1,categoryPercentage:1},{data:[[clusterSizes[0],clusterSizes[0]+clusterSizes[1]+2]],backgroundColor:'#2e8b57',grouped:false,barPercentage:1,categoryPercentage:1}]},
 options:{indexAxis:'y',scales:{x:{display:false,min:0,max:342,bounds:'data'},y:{display:false}}}});
function cnvChart(runs,labels,color,y0,y1){
  const spans=runs.map(parseSpans),k=Math.max(...spans.map(s=>s.length));
  const ds=[];for(let j=0;j<k;j++)ds.push({data:spans.map(s=>s[j]||null),backgroundColor:color,grouped:false,barPercentage:1,categoryPercentage:1});
  place(D_X0,y0,D_X1,y1,{l:2,t:2,r:2,b:2},{type:'bar',data:{labels,datasets:ds},options:{indexAxis:'y',scales:{x:{display:false,min:0,max:D_MAX,bounds:'data'},y:{display:false}}},plugins:[frame('#ababab',2)]});
  const h=(y1-y0)/labels.length;
  labels.forEach((t,i)=>txt(t,1296,y0+h*(i+.5)+1.5,{anchor:'r',size:17.5,italic:true,color:'#222'}));
}
cnvChart(ampRuns,ampLabels,'#db4f36',831.3,1159);
cnvChart(delRuns,delLabels,'#52afca',1168.3,1627.7);
txt('Cluster',1952,829,{anchor:'l',size:14,weight:'bold'});
rect(1953.5,841,1968,857,'background:#f5a21b');rect(1953.5,858,1968,873,'background:#2e8b57');
txt('cluster1',1972.5,849,{anchor:'l',size:13.9});txt('cluster2',1972.5,865.5,{anchor:'l',size:13.9});
txt('CNV',1952,887,{anchor:'l',size:14,weight:'bold'});
rect(1953.5,899,1968,914,'background:#db4f36');txt('Amplification',1972.5,907,{anchor:'l',size:13.9});
rect(1953.5,940,1968,956,'background:#52afca');txt('Deletion',1972.5,948,{anchor:'l',size:13.9});
txt('Frequency',1951.5,1001,{anchor:'l',size:16.7});
rect(1953,1018,1980,1155,'background:linear-gradient(to bottom,#d8452b 0%,#ea8d78 22%,#fbe3dc 47%,#ffffff 58%,#d3e9f1 74%,#7cc0d8 100%)');
[["0.75",1022],["0.50",1045],["0.25",1071.7],["0.00",1098],["\u22120.25",1125],["\u22120.50",1152]].forEach(a=>txt(a[0],1988,a[1],{anchor:'l',size:14}));

/* ---------- Panel E ---------- */
function boxPanel(title,stars,box,outliers,x0,x1,min,max,step,major,starsX){
  const ptop=1764.6,pbot=2162.5;
  const isMaj=c=>c.tick&&Math.abs(c.tick.value%major)<1e-6;
  const o={
   whisk:box.map((b,i)=>({x:i+1,y:[b[0],b[4]]})),
   iqr:box.map((b,i)=>({x:i+1,y:[b[1],b[3]]})),
   med:box.map((b,i)=>({x:i+1,y:b[2]})),
   out:outliers.map(v=>({x:1,y:v}))};
  place(x0,ptop,x1,pbot,{l:36,t:2,r:2,b:26},{type:'bar',data:{datasets:[
   {type:'scatter',data:o.med,pointStyle:'line',pointRadius:35,pointBorderColor:'#3b3030',pointBorderWidth:4,order:0},
   {type:'scatter',data:o.out,pointRadius:1.8,pointBackgroundColor:'#333',pointBorderWidth:0,order:0},
   {type:'bar',data:o.iqr,backgroundColor:['#db4a33','#4fb0cb'],borderColor:'#444',borderWidth:1.8,borderSkipped:false,barThickness:70,grouped:false,order:1},
   {type:'bar',data:o.whisk,backgroundColor:'#333',barThickness:2,grouped:false,order:2}]},
   options:{scales:{
    x:{type:'linear',offset:false,bounds:'data',min:.41,max:2.6,afterBuildTicks:setTicks([1,2]),ticks:{autoSkip:false,font:{size:15.2},color:'#4d4d4d',padding:4,maxRotation:0,callback:v=>v===1?'cluster1':'cluster2'},grid:{offset:false,color:'#ededed',tickLength:4,tickColor:'#444'},border:{display:false}},
    y:{bounds:'data',min,max,afterBuildTicks:setTicks(tickAt(min,max,step)),ticks:{autoSkip:false,font:{size:16.5},color:'#4d4d4d',padding:3,callback:v=>(Math.abs(v%major)<1e-6?String(v):'')},grid:{color:c=>isMaj(c)?'#ececec':'#f4f4f4',lineWidth:c=>isMaj(c)?2:1.2,tickLength:4,tickColor:c=>isMaj(c)?'#444':'rgba(0,0,0,0)'},border:{display:false}}}},
   plugins:[frame('#666',1.5)]});
  rect(x0-.5,1730,x1+.5,ptop,'background:#d9d9d9;box-sizing:border-box;border:1.5px solid #777;border-bottom:3px solid #555');
  txt(title,(x0+x1)/2,1747,{size:20.5});
  txt(stars,starsX,1774,{size:14,weight:'bold'});
}
boxPanel('Arm\u2212level gain','***',armGainBox,armGainOutliers,1122.6,1326.6,-.224,4.877,.5,1,1222);
boxPanel('Arm\u2212level loss','**',armLossBox,armLossOutliers,1355.4,1558.7,-.23,4.99,.5,1,1452.5);
boxPanel('Focal\u2212level gain','***',focalGainBox,focalGainOutliers,1597.4,1800.7,-.635,13.8,2.5,5,1696.5);
boxPanel('Focal\u2212level loss','***',focalLossBox,focalLossOutliers,1838.7,2042.6,-.6,13.1,2,4,1938.5);
txt('log2 (Count +1)',1089,1964,{size:18,rot:-90});
txt('Cluster',1583,2198.6,{size:18.5});
</script></body></html>
